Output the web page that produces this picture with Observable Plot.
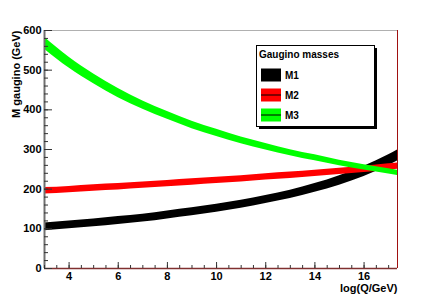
<!DOCTYPE html>
<html>
<head>
<meta charset="utf-8">
<script src="https://cdn.jsdelivr.net/npm/d3@7"></script>
<script src="https://cdn.jsdelivr.net/npm/@observablehq/plot@0.6"></script>
<style>
  html, body { margin: 0; padding: 0; background: #fff; }
  #chart { width: 442px; height: 299px; }
</style>
</head>
<body>
<div id="chart"></div>
<script>
// ---- data ----
const logQ   = [3, 4, 5, 6, 7, 8, 9, 10, 11, 12, 13, 14, 15, 16, 17, 17.36];
const m1     = [105, 110, 115, 121, 127, 135, 143, 152, 162, 174, 187, 203, 222, 245, 273, 285];
const m1Half = [10, 10, 10, 10, 10, 10, 10, 10, 10, 10, 10.5, 11, 12, 13, 13.5, 14];
const m2     = [196, 199, 203, 206, 210, 214, 218, 222, 226, 231, 235, 240, 245, 250, 256, 258];
const m2Half = [8, 8, 8, 8, 8, 8, 8, 8, 8, 8, 8, 8, 8, 8, 8, 8];
const m3     = [568, 519, 478, 442, 412, 386, 362, 342, 323, 307, 292, 279, 266, 255, 245, 241];
const m3Half = [15, 13.5, 12.5, 11.5, 10.5, 10, 9.5, 9, 8.5, 8, 7.5, 7.5, 7, 6.5, 6.5, 6.5];

const seriesNames  = ["M1", "M2", "M3"];
const seriesColors = ["#000000", "#ff0000", "#00ff00"];
const legendTitle  = "Gaugino masses";

const xTickLabels = [4, 6, 8, 10, 12, 14, 16];
const yTickLabels = [0, 100, 200, 300, 400, 500, 600];
const xMinorTicks = d3.range(3, 17.01, 0.5);
const yMinorTicks = d3.range(0, 600.1, 20);
const xDomain = [3, 17.36];
const yDomain = [0, 600];

const centers = [m1, m2, m3];
const halves  = [m1Half, m2Half, m3Half];
const bandRows = seriesNames.map((name, s) =>
  logQ.map((x, i) => ({x, lo: centers[s][i] - halves[s][i], hi: centers[s][i] + halves[s][i], name}))
);

const font = "'Liberation Sans', Arial, Helvetica, sans-serif";

const plot = Plot.plot({
  width: 442,
  height: 299,
  marginLeft: 44,
  marginRight: 45,
  marginTop: 30,
  marginBottom: 31,
  style: {fontFamily: font, fontWeight: "bold", fontSize: "11px", background: "#fff", color: "#000"},
  x: {domain: xDomain, label: null},
  y: {domain: yDomain, label: null},
  marks: [
    // bands
    ...bandRows.map((rows, s) => Plot.areaY(rows, {x: "x", y1: "lo", y2: "hi", fill: seriesColors[s], curve: "monotone-x", clip: true})),
    // frame lines
    Plot.ruleY([yDomain[1]], {stroke: "#b0b0b0", strokeWidth: 1}),
    Plot.ruleX([xDomain[1]], {stroke: "#a01010", strokeWidth: 1}),
    Plot.ruleY([yDomain[0]], {stroke: "#803030", strokeWidth: 1.5}),
    Plot.ruleX([xDomain[0]], {stroke: "#707070", strokeWidth: 2}),
    // y axis ticks (inside)
    Plot.axisY({ticks: yMinorTicks, tickSize: -4, text: null, label: null, stroke: "#333"}),
    Plot.axisY({ticks: yTickLabels, tickSize: -8, text: null, label: null, stroke: "#333"}),
    Plot.axisY({ticks: yTickLabels, tickSize: 0, tickPadding: 3, tickFormat: d => String(d), label: null, fontSize: 11}),
    // x axis ticks (inside)
    Plot.axisX({ticks: xMinorTicks, tickSize: -3, text: null, label: null, stroke: "#333"}),
    Plot.axisX({ticks: xTickLabels, tickSize: -6, text: null, label: null, stroke: "#333"}),
    Plot.axisX({ticks: xTickLabels, tickSize: 0, tickPadding: 4, tickFormat: d => String(d), label: null, fontSize: 11}),
    // axis titles
    Plot.text(["log(Q/GeV)"], {frameAnchor: "bottom-right", dy: 23, textAnchor: "end", lineAnchor: "bottom", fontSize: 11, fontWeight: "bold"}),
    Plot.text(["M gaugino (GeV)"], {frameAnchor: "top-left", dx: -25, dy: 0, rotate: -90, textAnchor: "end", lineAnchor: "bottom", fontSize: 11, fontWeight: "bold"})
  ]
});

document.getElementById("chart").appendChild(plot);

// ---- legend box drawn into the same svg ----
const svg = d3.select(plot);
const lg = svg.append("g").attr("font-family", font).attr("font-weight", "bold").attr("text-anchor", "start");
const bx = 256, by = 45, bw = 118, bh = 81;
lg.append("rect").attr("x", bx + 3).attr("y", by + 3).attr("width", bw).attr("height", bh).attr("fill", "#000");
lg.append("rect").attr("x", bx + 0.5).attr("y", by + 0.5).attr("width", bw).attr("height", bh).attr("fill", "#fff").attr("stroke", "#000").attr("stroke-width", 1);
lg.append("text").attr("x", bx + 3).attr("y", by + 12.5).attr("font-size", 10).attr("text-anchor", "start").text(legendTitle);
seriesNames.forEach((name, i) => {
  const yy = by + 23.5 + 20 * i;
  lg.append("rect").attr("x", bx + 5).attr("y", yy).attr("width", 20).attr("height", 13).attr("fill", seriesColors[i]);
  lg.append("line").attr("x1", bx + 5).attr("x2", bx + 25).attr("y1", yy + 6.5).attr("y2", yy + 6.5).attr("stroke", "#000").attr("stroke-width", 1);
  lg.append("text").attr("x", bx + 29).attr("y", yy + 10.5).attr("font-size", 10).attr("text-anchor", "start").text(name);
});
</script>
</body>
</html>
